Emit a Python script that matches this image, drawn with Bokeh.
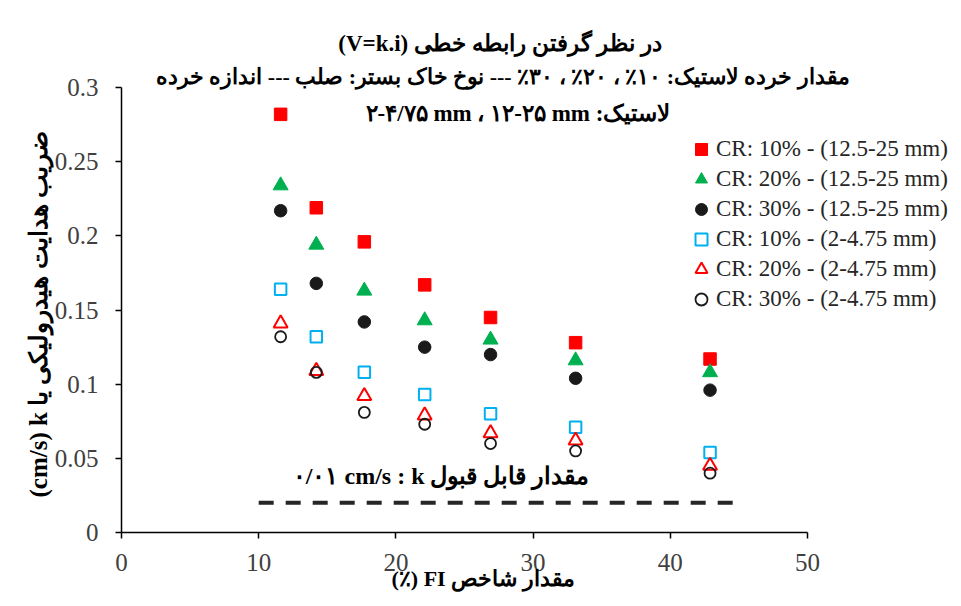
from bokeh.plotting import figure
from bokeh.models import Range1d, LinearAxis, Legend, LegendItem, FixedTicker, Label, Title
from bokeh.embed import file_html
from bokeh.resources import INLINE

# ---- data ----
fi = [11.6, 14.2, 17.7, 22.1, 26.9, 33.1, 42.9]
k_cr10_large = [0.282, 0.219, 0.196, 0.167, 0.145, 0.128, 0.117]
k_cr20_large = [0.234, 0.194, 0.163, 0.143, 0.130, 0.116, 0.108]
k_cr30_large = [0.217, 0.168, 0.142, 0.125, 0.120, 0.104, 0.096]
k_cr10_small = [0.164, 0.132, 0.108, 0.093, 0.080, 0.071, 0.054]
k_cr20_small = [0.141, 0.109, 0.092, 0.079, 0.067, 0.062, 0.045]
k_cr30_small = [0.132, 0.108, 0.081, 0.073, 0.060, 0.055, 0.040]

acceptable_fi = [10, 45]
acceptable_k = [0.02, 0.02]

x_ticks = [0, 10, 20, 30, 40, 50]
y_ticks = [0, 0.05, 0.1, 0.15, 0.2, 0.25, 0.3]
y_tick_labels = ["0", "0.05", "0.1", "0.15", "0.2", "0.25", "0.3"]

series_labels = [
    "CR: 10% - (12.5-25 mm)",
    "CR: 20% - (12.5-25 mm)",
    "CR: 30% - (12.5-25 mm)",
    "CR: 10% - (2-4.75 mm)",
    "CR: 20% - (2-4.75 mm)",
    "CR: 30% - (2-4.75 mm)",
]

title_text = "(V=k.i) در نظر گرفتن رابطه خطی"
sub1_text = "مقدار خرده لاستیک: ۱۰٪ ، ۲۰٪ ، ۳۰٪ --- نوخ خاک بستر: صلب --- اندازه خرده"
sub2_text = "۲-۴/۷۵ mm ، ۱۲-۲۵ mm :لاستیک"
limit_text = "۰/۰۱ cm/s : k مقدار قابل قبول"
x_label = "(٪) FI مقدار شاخص"
y_label = "(cm/s) k ضریب هدایت هیدرولیکی یا"

SERIF = "Liberation Serif"

p = figure(width=955, height=598,
           x_range=Range1d(0, 60.5), y_range=Range1d(0, 0.35),
           x_axis_type=None, y_axis_type=None,
           output_backend="svg", toolbar_location=None,
           min_border_left=121, min_border_right=4,
           min_border_top=13, min_border_bottom=66)
p.grid.visible = False
p.outline_line_color = None
p.background_fill_color = "white"
p.border_fill_color = "white"

xaxis = LinearAxis(bounds=(0, 50), ticker=FixedTicker(ticks=x_ticks))
yaxis = LinearAxis(bounds=(0, 0.3), ticker=FixedTicker(ticks=y_ticks),
                   major_label_overrides={t: l for t, l in zip(y_ticks, y_tick_labels)})
for ax in (xaxis, yaxis):
    ax.axis_line_color = "black"
    ax.axis_line_width = 1.5
    ax.major_tick_line_color = "black"
    ax.major_tick_line_width = 1.5
    ax.major_tick_out = 6
    ax.major_tick_in = 0
    ax.minor_tick_line_color = None
    ax.major_label_text_font = SERIF
    ax.major_label_text_font_size = "25px"
    ax.major_label_text_color = "#404040"

xaxis.major_label_standoff = 15
yaxis.major_label_standoff = 17
p.add_layout(xaxis, "below")
p.add_layout(yaxis, "left")

# axis titles (placed as side titles so they can sit off-centre like the reference)
p.add_layout(Title(text=x_label, align="left", offset=270, vertical_align="top",
                   standoff=-16, text_font=SERIF, text_font_style="bold",
                   text_font_size="22px", text_color="black"), "below")
p.add_layout(Title(text=y_label, align="left", offset=35, vertical_align="bottom",
                   standoff=0, text_font=SERIF, text_font_style="bold",
                   text_font_size="25px", text_color="black"), "left")

r1 = p.scatter(fi, k_cr10_large, marker="square", size=12.5, fill_color="#FF0000", line_color="#FF0000")
r2 = p.scatter(fi, k_cr20_large, marker="triangle", size=15, fill_color="#00B050", line_color="#00B050")
r3 = p.scatter(fi, k_cr30_large, marker="circle", size=12.5, fill_color="#1A1A1A", line_color="#1A1A1A")
r4 = p.scatter(fi, k_cr10_small, marker="square", size=11.5, fill_color=None, line_color="#00B0F0", line_width=2)
r5 = p.scatter(fi, k_cr20_small, marker="triangle", size=14, fill_color=None, line_color="#FF0000", line_width=2)
r6 = p.scatter(fi, k_cr30_small, marker="circle", size=11, fill_color=None, line_color="#1A1A1A", line_width=1.8)

p.line(acceptable_fi, acceptable_k, line_color="#262626", line_width=4, line_dash="15 12")

legend = Legend(items=[LegendItem(label=l, renderers=[r]) for l, r in
                       zip(series_labels, [r1, r2, r3, r4, r5, r6])],
                location=(565, 218))
legend.label_text_font = SERIF
legend.label_text_font_size = "23px"
legend.label_text_color = "#262626"
legend.glyph_width = 30
legend.glyph_height = 30
legend.label_height = 30
legend.label_standoff = 0
legend.spacing = 0
legend.padding = 0
legend.margin = 0
legend.border_line_color = None
legend.background_fill_alpha = 0
p.add_layout(legend)

def add_label(x, y, text, size):
    p.add_layout(Label(x=x, y=y, text=text, text_font=SERIF, text_font_style="bold",
                       text_font_size=size, text_align="center", text_baseline="middle",
                       text_color="black"))

add_label(27.6, 0.330, title_text, "23px")
add_label(27.8, 0.3074, sub1_text, "22px")
add_label(28.9, 0.2824, sub2_text, "23px")
add_label(23.3, 0.0381, limit_text, "24px")

open("out.html", "w").write(file_html(p, INLINE))
